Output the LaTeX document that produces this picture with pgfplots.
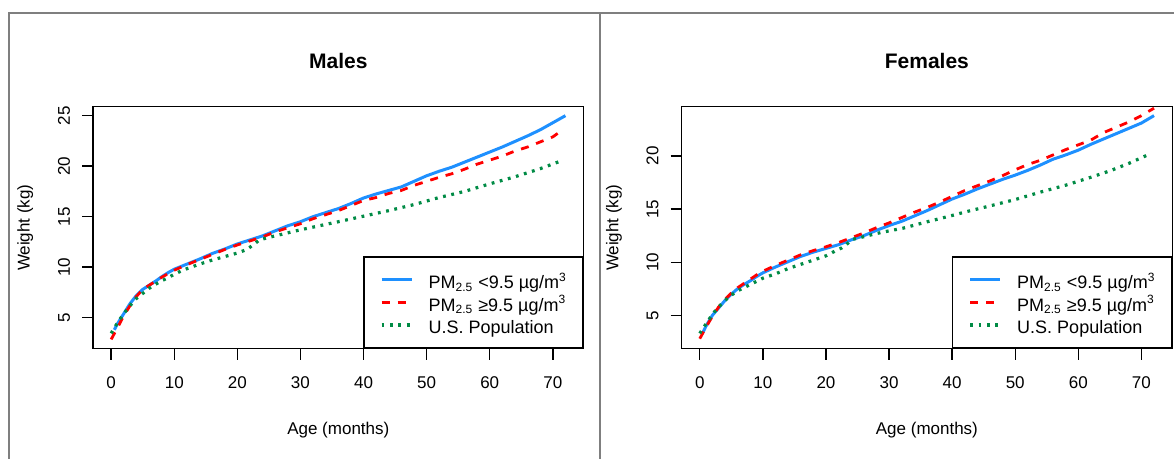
\documentclass[border=0pt]{standalone}
\usepackage{fontspec}
\setmainfont{Liberation Sans}
\usepackage{pgfplots}
\pgfplotsset{compat=1.18}

\definecolor{cblue}{HTML}{1E90FF}
\definecolor{cred}{HTML}{FF0000}
\definecolor{cgreen}{HTML}{008B45}
\definecolor{framegray}{HTML}{7F7F7F}

\pgfplotsset{
  panel/.style={
    scale only axis, width=245.3pt, height=121pt,
    xmin=-2.88, xmax=74.88, xtick={0,10,...,70},
    tick align=outside, major tick length=5.5pt,
    xtick pos=bottom, ytick pos=left,
    axis line style={line width=0.7pt},
    every tick/.style={black, line width=0.7pt},
    /pgf/number format/assume math mode=true,
    tick label style={font=\fontsize{8.5}{10}\selectfont},
    y tick label style={rotate=90, anchor=south},
    xticklabel shift=5pt, yticklabel shift=2.5pt,
    label style={font=\fontsize{8.5}{10}\selectfont},
    xlabel={Age (months)}, ylabel={Weight (kg)},
    xlabel style={at={(axis description cs:0.5,-0.336)}, anchor=center},
    ylabel style={at={(axis description cs:-0.138,0.5)}, anchor=center},
    every axis title shift=0pt,
    title style={at={(axis description cs:0.5,1.189)}, anchor=center,
      font=\bfseries\fontsize{10.5}{12}\selectfont},
    legend style={at={(1,0)}, anchor=south east, draw=black, line width=0.7pt,
      fill=white, font=\fontsize{9}{10}\selectfont,
      inner xsep=8pt, inner ysep=6.5pt, row sep=1.25pt,
      nodes={inner sep=0pt, text height=9.5pt, text depth=0.5pt},
      /tikz/every odd column/.append style={column sep=7.75pt}},
    legend cell align=left,
    legend image code/.code={\draw[##1] (0pt,0pt) -- (15pt,0pt);},
  },
  lowpm/.style={cblue, line width=1.5pt},
  highpm/.style={cred, line width=1.4pt, dash pattern=on 4pt off 4pt},
  uspop/.style={cgreen, line width=1.6pt, line cap=butt, dash pattern=on 1.4pt off 2.8pt},
}

\begin{document}
\begin{tikzpicture}
\useasboundingbox (0,0) rectangle (587pt,229.5pt);

\begin{axis}[panel, at={(46.5pt,55.15pt)}, anchor=south west,
  ymin=1.93, ymax=25.89, ytick={5,10,...,25}, title={Males}]
\addplot[lowpm] coordinates {
(0.5,3.8) (1,4.4) (2,5.4) (3,6.4) (4,7.2) (5,7.8) (6,8.2) (7,8.6) (8,9.05) (9,9.45)
(10,9.8) (12,10.3) (14,10.8) (16,11.35) (18,11.8) (20,12.3) (22,12.7) (24,13.1)
(26,13.6) (28,14.1) (30,14.5) (32,15.0) (34,15.4) (36,15.8) (38,16.3) (40,16.85)
(42,17.25) (44,17.6) (46,17.95) (48,18.5) (50,19.05) (52,19.5) (54,19.9) (56,20.4)
(58,20.9) (60,21.4) (62,21.9) (64,22.45) (66,23.0) (68,23.6) (70,24.3) (72,25.0)};
\addlegendentry{PM\textsubscript{2.5} <9.5 µg/m\textsuperscript{3}}
\addplot[highpm] coordinates {
(0,2.85) (1,4.0) (2,5.2) (3,6.2) (4,7.1) (5,7.8) (6,8.2) (7,8.6) (8,9.0) (9,9.35)
(10,9.7) (12,10.25) (14,10.75) (16,11.25) (18,11.75) (20,12.2) (22,12.6) (24,13.0)
(26,13.5) (28,13.9) (30,14.3) (32,14.8) (34,15.2) (36,15.6) (38,16.1) (40,16.6)
(42,16.9) (44,17.3) (46,17.6) (48,18.1) (50,18.5) (52,18.9) (54,19.25) (56,19.7)
(58,20.2) (60,20.6) (62,21.0) (64,21.5) (66,21.9) (68,22.4) (70,22.9) (71,23.35)};
\addlegendentry{PM\textsubscript{2.5} ≥9.5 µg/m\textsuperscript{3}}
\addplot[uspop] coordinates {
(0,3.45) (1,4.5) (2,5.4) (3,6.2) (4,6.9) (5,7.4) (6,7.9) (7,8.3) (8,8.65) (9,8.95)
(10,9.3) (11,9.6) (12,9.85) (14,10.3) (16,10.7) (18,11.05) (20,11.4) (21.5,11.75)
(22.5,12.2) (23.5,12.7) (25,12.95) (27,13.25) (30,13.7) (33,14.1) (36,14.5) (40,15.05)
(44,15.6) (48,16.2) (52,16.9) (56,17.5) (60,18.25) (64,18.95) (68,19.75) (71,20.45)};
\addlegendentry{U.S. Population}
\end{axis}

\begin{axis}[panel, at={(340.8pt,55.15pt)}, anchor=south west,
  ymin=1.86, ymax=24.64, ytick={5,10,15,20}, title={Females}]
\addplot[lowpm] coordinates {
(0.5,3.4) (1,4.0) (2,5.0) (3,5.7) (4,6.4) (5,7.0) (6,7.5) (7,7.9) (8,8.25) (9,8.65)
(10,9.0) (12,9.55) (14,10.05) (16,10.55) (18,10.95) (20,11.3) (22,11.65) (24,12.1)
(26,12.5) (28,13.0) (30,13.45) (32,13.85) (34,14.35) (36,14.85) (38,15.4) (40,15.95)
(42,16.4) (44,16.9) (46,17.35) (48,17.8) (50,18.2) (52,18.65) (54,19.15) (56,19.7)
(58,20.1) (60,20.55) (62,21.1) (64,21.6) (66,22.1) (68,22.6) (70,23.1) (72,23.8)};
\addlegendentry{PM\textsubscript{2.5} <9.5 µg/m\textsuperscript{3}}
\addplot[highpm] coordinates {
(0,2.8) (1,3.9) (2,4.9) (3,5.8) (4,6.5) (5,7.1) (6,7.6) (7,8.0) (8,8.4) (9,8.8)
(10,9.15) (12,9.7) (14,10.2) (16,10.7) (18,11.1) (20,11.45) (22,11.85) (24,12.3)
(26,12.75) (28,13.25) (30,13.7) (32,14.2) (34,14.7) (36,15.15) (38,15.65) (40,16.2)
(42,16.75) (44,17.2) (46,17.65) (48,18.15) (50,18.7) (52,19.2) (54,19.6) (56,20.1)
(58,20.6) (60,21.05) (62,21.5) (64,22.2) (66,22.7) (68,23.2) (70,23.8) (72,24.5)};
\addlegendentry{PM\textsubscript{2.5} ≥9.5 µg/m\textsuperscript{3}}
\addplot[uspop] coordinates {
(0,3.3) (1,4.2) (2,5.1) (3,5.8) (4,6.4) (5,6.9) (6,7.3) (7,7.6) (8,7.9) (9,8.2)
(10,8.5) (11,8.7) (12,8.9) (14,9.4) (16,9.8) (18,10.2) (20,10.6) (21.6,11.1)
(22.5,11.35) (23.2,11.65) (24.2,12.15) (26,12.4) (28,12.7) (30,12.95) (32.2,13.2)
(36,13.8) (40,14.4) (42.2,14.75) (46,15.3) (50,15.9) (54,16.6) (58,17.25) (62,18.0)
(65,18.6) (68,19.3) (71,20.1)};
\addlegendentry{U.S. Population}
\end{axis}

\draw[framegray, line width=1pt] (4.5pt,0pt) -- (4.5pt,223pt) -- (587pt,223pt);
\draw[framegray, line width=1pt] (299.75pt,0pt) -- (299.75pt,223pt);
\end{tikzpicture}
\end{document}
